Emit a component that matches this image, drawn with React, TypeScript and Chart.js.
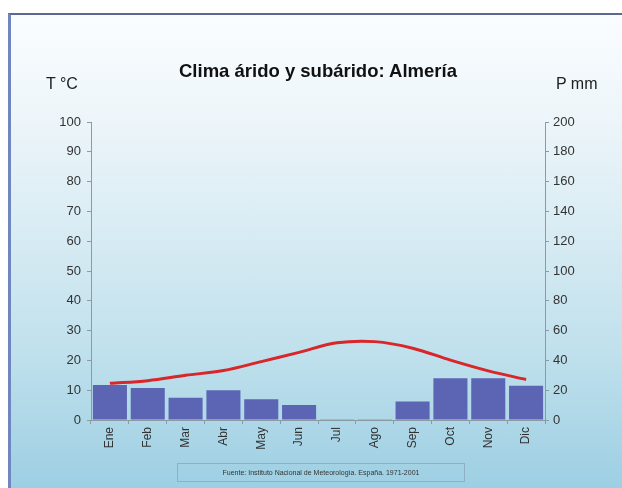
import React, { useEffect, useRef } from "react";
import { Chart, registerables } from "chart.js";

Chart.register(...registerables);

const months = ["Ene", "Feb", "Mar", "Abr", "May", "Jun", "Jul", "Ago", "Sep", "Oct", "Nov", "Dic"];
const temperature = [12.3, 13.2, 15.0, 16.6, 19.6, 22.7, 25.9, 26.3, 24.1, 20.1, 16.5, 13.6];
const precipitation = [23.5, 21.5, 15, 20, 14, 10, 0.5, 0.5, 12.5, 28, 28, 23];
const tempTicks = [0, 10, 20, 30, 40, 50, 60, 70, 80, 90, 100];
const precipTicks = [0, 20, 40, 60, 80, 100, 120, 140, 160, 180, 200];

const titleText = "Clima árido y subárido: Almería";
const leftUnit = "T °C";
const rightUnit = "P mm";
const sourceText = "Fuente: Instituto Nacional de Meteorología. España. 1971-2001";

export default function App() {
  const ref = useRef<HTMLCanvasElement | null>(null);

  useEffect(() => {
    if (!ref.current) return;
    const yFont = { family: "'Liberation Sans', Arial, sans-serif", size: 13 };
    const xFont = { family: "'Liberation Sans', Arial, sans-serif", size: 12 };
    const chart = new Chart(ref.current, {
      type: "bar",
      data: {
        labels: months,
        datasets: [
          {
            type: "line",
            data: temperature,
            yAxisID: "y",
            borderColor: "#d8262a",
            borderWidth: 3,
            pointRadius: 0,
            tension: 0.35,
            fill: false,
            order: 0,
          } as any,
          {
            type: "bar",
            data: precipitation,
            yAxisID: "y1",
            backgroundColor: "#5c65b3",
            barPercentage: 0.9,
            categoryPercentage: 1,
            order: 1,
          },
        ],
      },
      options: {
        responsive: false,
        animation: false,
        layout: { padding: { top: 122, left: 0, right: 0, bottom: 0 } },
        plugins: { legend: { display: false }, tooltip: { enabled: false }, title: { display: false } },
        scales: {
          x: {
            grid: { drawOnChartArea: false, tickLength: 4, color: "#8c9aa6" },
            border: { color: "#8c9aa6", width: 1 },
            ticks: {
              font: xFont,
              color: "#333",
              maxRotation: 90,
              minRotation: 90,
              autoSkip: false,
              padding: 3,
            },
            afterFit: (s: any) => {
              s.height = 68;
            },
          },
          y: {
            position: "left",
            min: 0,
            max: 100,
            afterBuildTicks: (s: any) => {
              s.ticks = tempTicks.map((v) => ({ value: v }));
            },
            grid: { drawOnChartArea: false, tickLength: 4, color: "#8c9aa6" },
            border: { color: "#8c9aa6", width: 1 },
            ticks: { font: yFont, color: "#333", padding: 6 },
            afterFit: (s: any) => {
              s.width = 91;
            },
          },
          y1: {
            position: "right",
            min: 0,
            max: 200,
            afterBuildTicks: (s: any) => {
              s.ticks = precipTicks.map((v) => ({ value: v }));
            },
            grid: { drawOnChartArea: false, tickLength: 4, color: "#8c9aa6" },
            border: { color: "#8c9aa6", width: 1 },
            ticks: { font: yFont, color: "#333", padding: 4 },
            afterFit: (s: any) => {
              s.width = 77;
            },
          },
        },
      },
    });
    return () => chart.destroy();
  }, []);

  const ff = "'Liberation Sans', Arial, sans-serif";

  return (
    <div style={{ position: "fixed", left: 0, top: 0, width: 622, height: 488, background: "#ffffff", overflow: "hidden" }}>
      <div
        style={{
          position: "absolute",
          left: 8,
          top: 13,
          width: 614,
          height: 475,
          boxSizing: "border-box",
          borderTop: "2px solid #5d6890",
          borderLeft: "3px solid #6f86c0",
          background: "linear-gradient(to bottom, #fafdff 0%, #eef6fa 20%, #d9ecf4 45%, #bfe0ec 72%, #9dcfe3 100%)",
        }}
      />
      <canvas ref={ref} width={622} height={488} style={{ position: "absolute", left: 0, top: 0, width: 622, height: 488 }} />
      <div style={{ position: "absolute", left: 179, width: 290, top: 60, whiteSpace: "nowrap", fontFamily: ff, fontWeight: "bold", fontSize: 18.5, color: "#111" }}>
        {titleText}
      </div>
      <div style={{ position: "absolute", left: 46, top: 75, whiteSpace: "nowrap", fontFamily: ff, fontSize: 16, color: "#222" }}>{leftUnit}</div>
      <div style={{ position: "absolute", left: 556, top: 75, whiteSpace: "nowrap", fontFamily: ff, fontSize: 16, color: "#222" }}>{rightUnit}</div>
      <div
        style={{
          position: "absolute",
          left: 177,
          top: 463,
          width: 288,
          height: 19,
          boxSizing: "border-box",
          border: "1px solid #8fb0c4",
          fontFamily: ff,
          fontSize: 7,
          lineHeight: "17px",
          textAlign: "center",
          color: "#333",
        }}
      >
        {sourceText}
      </div>
    </div>
  );
}
